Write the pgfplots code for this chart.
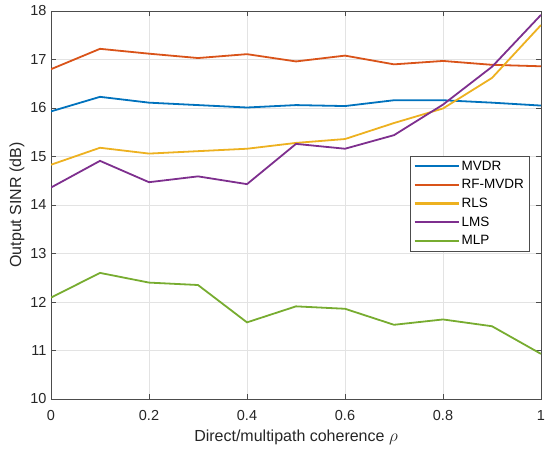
\documentclass[border=0pt]{standalone}
\usepackage{pgfplots}
\pgfplotsset{compat=1.18}
\usepackage{fontspec}
\setmainfont{Liberation Sans}
\definecolor{c1}{rgb}{0,0.447,0.741}
\definecolor{c2}{rgb}{0.850,0.325,0.098}
\definecolor{c3}{rgb}{0.929,0.694,0.125}
\definecolor{c4}{rgb}{0.494,0.184,0.556}
\definecolor{c5}{rgb}{0.466,0.674,0.188}
\definecolor{axgray}{rgb}{0.15,0.15,0.15}
\begin{document}
\begin{tikzpicture}
\begin{axis}[name=ax,
  scale only axis, width=490pt, height=388pt,
  xmin=0, xmax=1, ymin=10, ymax=18,
  xtick={0,0.2,...,1}, ytick={10,11,...,18},
  xticklabels={0,0.2,0.4,0.6,0.8,1},
  grid=major, major grid style={gray!22, line width=0.6pt},
  axis line style={gray!60!black, line width=0.6pt},
  tick style={gray!60!black, line width=0.6pt},
  tick align=inside, major tick length=5pt,
  ticklabel style={font=\fontsize{14.5}{16}\selectfont, text=axgray},
  label style={font=\fontsize{16}{18}\selectfont, text=axgray},
  xticklabel style={yshift=-8pt},
  yticklabel style={xshift=-1pt},
  /pgf/number format/assume math mode=true,
  xlabel={Direct/multipath coherence $\rho$},
  ylabel={Output SINR (dB)},
  xlabel style={yshift=-2pt},
  ylabel style={yshift=-1pt},
  legend style={at={(0.976,0.626)}, anchor=north east, draw=gray!60!black,
    line width=0.6pt,
    font=\fontsize{13.5}{15}\selectfont, text=black, row sep=3.8pt,
    inner xsep=3pt, inner ysep=2.5pt, cells={anchor=west}},
  legend cell align=left,
  legend image code/.code={\draw[#1, line width=2.1pt] (0pt,0pt) -- (44pt,0pt);},
  every axis plot/.append style={line width=1.8pt},
]
\addplot[c1] coordinates {(0,15.93)(0.1,16.23)(0.2,16.11)(0.3,16.06)(0.4,16.01)(0.5,16.06)(0.6,16.04)(0.7,16.16)(0.8,16.16)(0.9,16.11)(1,16.05)};
\addplot[c2] coordinates {(0,16.80)(0.1,17.22)(0.2,17.12)(0.3,17.03)(0.4,17.11)(0.5,16.96)(0.6,17.08)(0.7,16.90)(0.8,16.97)(0.9,16.89)(1,16.86)};
\addplot[c3] coordinates {(0,14.83)(0.1,15.18)(0.2,15.06)(0.3,15.11)(0.4,15.16)(0.5,15.28)(0.6,15.36)(0.7,15.69)(0.8,15.99)(0.9,16.62)(1,17.71)};
\addplot[c4] coordinates {(0,14.36)(0.1,14.91)(0.2,14.47)(0.3,14.59)(0.4,14.43)(0.5,15.26)(0.6,15.16)(0.7,15.44)(0.8,16.07)(0.9,16.85)(1,17.92)};
\addplot[c5] coordinates {(0,12.09)(0.1,12.60)(0.2,12.40)(0.3,12.35)(0.4,11.58)(0.5,11.91)(0.6,11.86)(0.7,11.53)(0.8,11.64)(0.9,11.50)(1,10.93)};
\legend{MVDR,RF-MVDR,RLS,LMS,MLP}
\end{axis}
\pgfresetboundingbox
\path[use as bounding box] ([shift={(-51pt,-53pt)}]ax.south west) rectangle ([shift={(9pt,11pt)}]ax.north east);
\end{tikzpicture}
\end{document}
